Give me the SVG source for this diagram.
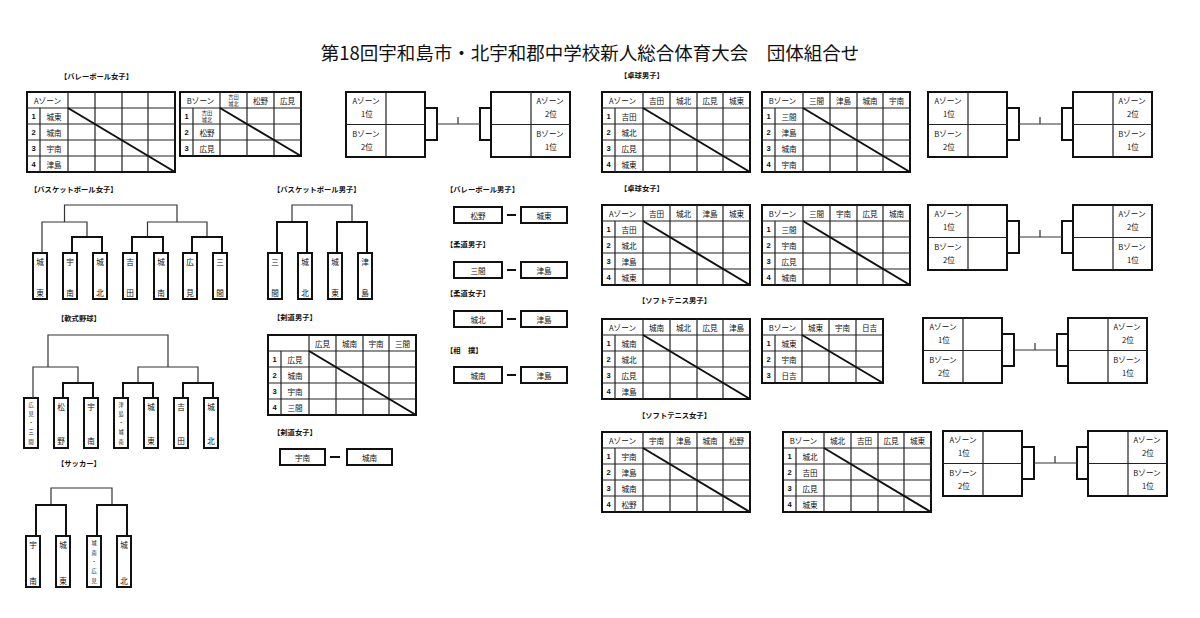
<svg xmlns="http://www.w3.org/2000/svg" width="1200" height="618" viewBox="0 0 1200 618">
<style>
text{font-family:"Noto Sans CJK JP","Noto Sans",sans-serif;fill:#111}
.ti{font-size:18.5px;text-anchor:middle;dominant-baseline:central}
.lb{font-size:7.3px;font-weight:bold;dominant-baseline:central}
.t{font-size:7.6px;text-anchor:middle;dominant-baseline:central}
.n{font-size:7.6px;font-weight:bold;text-anchor:middle;dominant-baseline:central;font-family:"Liberation Sans",sans-serif}
.s{font-size:5.2px;text-anchor:middle;dominant-baseline:central}
.ob{fill:none;stroke:#111;stroke-width:2}
.in{fill:none;stroke:#222;stroke-width:1.2}
.dg{fill:none;stroke:#111;stroke-width:2}
.th{fill:none;stroke:#333;stroke-width:1.2}
.tk{fill:none;stroke:#111;stroke-width:2}
.bx{fill:#fff;stroke:#111;stroke-width:2}
</style>
<defs>
<g id="t4">
<rect x="0" y="0" width="148" height="80" class="ob"/>
<path d="M0 16H148M0 32H148M0 48H148M0 64H148M13 16V80M41 0V80M68 0V80M95 0V80M121 0V80" class="in"/>
<path d="M41 16L148 80" class="dg"/>
</g>
<g id="t3">
<rect x="0" y="0" width="121" height="64" class="ob"/>
<path d="M0 16H121M0 32H121M0 48H121M13 16V64M40 0V64M67 0V64M94 0V64" class="in"/>
<path d="M40 16L121 64" class="dg"/>
</g>
<g id="fin">
<rect x="0" y="0" width="79" height="65" class="ob"/>
<path d="M40 0V65M0 32.5H79" class="in"/>
<rect x="145" y="0" width="79" height="65" class="ob"/>
<path d="M185 0V65M145 32.5H224" class="in"/>
<path d="M79 16H91V48H79M145 16H134V48H145" class="tk"/>
<path d="M91 32H134M112 25V32" class="th"/>
</g>
</defs>
<rect width="1200" height="618" fill="#fff"/>
<text class="ti" x="590" y="52">第18回宇和島市・北宇和郡中学校新人総合体育大会　団体組合せ</text>

<g id="labels">
<text class="lb" x="60" y="76">【バレーボール女子】</text>
<text class="lb" x="620" y="75">【卓球男子】</text>
<text class="lb" x="30" y="189">【バスケットボール女子】</text>
<text class="lb" x="273" y="189">【バスケットボール男子】</text>
<text class="lb" x="446" y="189">【バレーボール男子】</text>
<text class="lb" x="620" y="188">【卓球女子】</text>
<text class="lb" x="446" y="244">【柔道男子】</text>
<text class="lb" x="446" y="293">【柔道女子】</text>
<text class="lb" x="638" y="300">【ソフトテニス男子】</text>
<text class="lb" x="57" y="318">【軟式野球】</text>
<text class="lb" x="273" y="317">【剣道男子】</text>
<text class="lb" x="446" y="350">【相　撲】</text>
<text class="lb" x="273" y="432">【剣道女子】</text>
<text class="lb" x="638" y="415">【ソフトテニス女子】</text>
<text class="lb" x="57" y="463">【サッカー】</text>
</g>

<g id="vg-a">
<use href="#t4" x="27" y="92"/>
<text class="t" x="47.5" y="100">Aゾーン</text>
<text class="n" x="33.5" y="116">1</text><text class="t" x="54" y="116">城東</text>
<text class="n" x="33.5" y="132">2</text><text class="t" x="54" y="132">城南</text>
<text class="n" x="33.5" y="148">3</text><text class="t" x="54" y="148">宇南</text>
<text class="n" x="33.5" y="164">4</text><text class="t" x="54" y="164">津島</text>
</g>
<g id="vg-b">
<use href="#t3" x="180" y="92"/>
<text class="t" x="200.5" y="100">Bゾーン</text>
<text class="s" x="233.5" y="96.5">吉田</text><text class="s" x="233.5" y="103.5">城北</text>
<text class="t" x="260.5" y="100">松野</text>
<text class="t" x="287.5" y="100">広見</text>
<text class="n" x="186.5" y="116">1</text><text class="s" x="207" y="112.5">吉田</text><text class="s" x="207" y="119.5">城北</text>
<text class="n" x="186.5" y="132">2</text><text class="t" x="207" y="132">松野</text>
<text class="n" x="186.5" y="148">3</text><text class="t" x="207" y="148">広見</text>
</g>

<g id="vg-final">
<use href="#fin" x="346" y="92"/>
<text class="t" x="366" y="100">Aゾーン</text><text class="t" x="367" y="113">1位</text>
<text class="t" x="366" y="133">Bゾーン</text><text class="t" x="367" y="146">2位</text>
<text class="t" x="550" y="100">Aゾーン</text><text class="t" x="551" y="113">2位</text>
<text class="t" x="550" y="133">Bゾーン</text><text class="t" x="551" y="146">1位</text>
</g>
<g id="ttb-final">
<use href="#fin" x="928" y="92"/>
<text class="t" x="948" y="100">Aゾーン</text><text class="t" x="949" y="113">1位</text>
<text class="t" x="948" y="133">Bゾーン</text><text class="t" x="949" y="146">2位</text>
<text class="t" x="1132" y="100">Aゾーン</text><text class="t" x="1133" y="113">2位</text>
<text class="t" x="1132" y="133">Bゾーン</text><text class="t" x="1133" y="146">1位</text>
</g>
<g id="ttg-final">
<use href="#fin" x="928" y="205"/>
<text class="t" x="948" y="213">Aゾーン</text><text class="t" x="949" y="226">1位</text>
<text class="t" x="948" y="246">Bゾーン</text><text class="t" x="949" y="259">2位</text>
<text class="t" x="1132" y="213">Aゾーン</text><text class="t" x="1133" y="226">2位</text>
<text class="t" x="1132" y="246">Bゾーン</text><text class="t" x="1133" y="259">1位</text>
</g>
<g id="stb-final">
<use href="#fin" x="923" y="318"/>
<text class="t" x="943" y="326">Aゾーン</text><text class="t" x="944" y="339">1位</text>
<text class="t" x="943" y="359">Bゾーン</text><text class="t" x="944" y="372">2位</text>
<text class="t" x="1127" y="326">Aゾーン</text><text class="t" x="1128" y="339">2位</text>
<text class="t" x="1127" y="359">Bゾーン</text><text class="t" x="1128" y="372">1位</text>
</g>
<g id="stg-final">
<use href="#fin" x="943" y="431"/>
<text class="t" x="963" y="439">Aゾーン</text><text class="t" x="964" y="452">1位</text>
<text class="t" x="963" y="472">Bゾーン</text><text class="t" x="964" y="485">2位</text>
<text class="t" x="1147" y="439">Aゾーン</text><text class="t" x="1148" y="452">2位</text>
<text class="t" x="1147" y="472">Bゾーン</text><text class="t" x="1148" y="485">1位</text>
</g>

<g id="ttb-a">
<use href="#t4" x="602" y="92"/>
<text class="t" x="622.5" y="100">Aゾーン</text>
<text class="t" x="656.5" y="100">吉田</text><text class="t" x="683.5" y="100">城北</text><text class="t" x="710" y="100">広見</text><text class="t" x="736.5" y="100">城東</text>
<text class="n" x="608.5" y="116">1</text><text class="t" x="629" y="116">吉田</text>
<text class="n" x="608.5" y="132">2</text><text class="t" x="629" y="132">城北</text>
<text class="n" x="608.5" y="148">3</text><text class="t" x="629" y="148">広見</text>
<text class="n" x="608.5" y="164">4</text><text class="t" x="629" y="164">城東</text>
</g>
<g id="ttb-b">
<use href="#t4" x="762" y="92"/>
<text class="t" x="782.5" y="100">Bゾーン</text>
<text class="t" x="816.5" y="100">三間</text><text class="t" x="843.5" y="100">津島</text><text class="t" x="870" y="100">城南</text><text class="t" x="896.5" y="100">宇南</text>
<text class="n" x="768.5" y="116">1</text><text class="t" x="789" y="116">三間</text>
<text class="n" x="768.5" y="132">2</text><text class="t" x="789" y="132">津島</text>
<text class="n" x="768.5" y="148">3</text><text class="t" x="789" y="148">城南</text>
<text class="n" x="768.5" y="164">4</text><text class="t" x="789" y="164">宇南</text>
</g>
<g id="ttg-a">
<use href="#t4" x="602" y="205"/>
<text class="t" x="622.5" y="213">Aゾーン</text>
<text class="t" x="656.5" y="213">吉田</text><text class="t" x="683.5" y="213">城北</text><text class="t" x="710" y="213">津島</text><text class="t" x="736.5" y="213">城東</text>
<text class="n" x="608.5" y="229">1</text><text class="t" x="629" y="229">吉田</text>
<text class="n" x="608.5" y="245">2</text><text class="t" x="629" y="245">城北</text>
<text class="n" x="608.5" y="261">3</text><text class="t" x="629" y="261">津島</text>
<text class="n" x="608.5" y="277">4</text><text class="t" x="629" y="277">城東</text>
</g>
<g id="ttg-b">
<use href="#t4" x="762" y="205"/>
<text class="t" x="782.5" y="213">Bゾーン</text>
<text class="t" x="816.5" y="213">三間</text><text class="t" x="843.5" y="213">宇南</text><text class="t" x="870" y="213">広見</text><text class="t" x="896.5" y="213">城南</text>
<text class="n" x="768.5" y="229">1</text><text class="t" x="789" y="229">三間</text>
<text class="n" x="768.5" y="245">2</text><text class="t" x="789" y="245">宇南</text>
<text class="n" x="768.5" y="261">3</text><text class="t" x="789" y="261">広見</text>
<text class="n" x="768.5" y="277">4</text><text class="t" x="789" y="277">城南</text>
</g>
<g id="stb-a">
<use href="#t4" x="602" y="319"/>
<text class="t" x="622.5" y="327">Aゾーン</text>
<text class="t" x="656.5" y="327">城南</text><text class="t" x="683.5" y="327">城北</text><text class="t" x="710" y="327">広見</text><text class="t" x="736.5" y="327">津島</text>
<text class="n" x="608.5" y="343">1</text><text class="t" x="629" y="343">城南</text>
<text class="n" x="608.5" y="359">2</text><text class="t" x="629" y="359">城北</text>
<text class="n" x="608.5" y="375">3</text><text class="t" x="629" y="375">広見</text>
<text class="n" x="608.5" y="391">4</text><text class="t" x="629" y="391">津島</text>
</g>
<g id="stb-b">
<use href="#t3" x="762" y="319"/>
<text class="t" x="782.5" y="327">Bゾーン</text>
<text class="t" x="815.5" y="327">城東</text><text class="t" x="842.5" y="327">宇南</text><text class="t" x="869.5" y="327">日吉</text>
<text class="n" x="768.5" y="343">1</text><text class="t" x="789" y="343">城東</text>
<text class="n" x="768.5" y="359">2</text><text class="t" x="789" y="359">宇南</text>
<text class="n" x="768.5" y="375">3</text><text class="t" x="789" y="375">日吉</text>
</g>
<g id="stg-a">
<use href="#t4" x="602" y="432"/>
<text class="t" x="622.5" y="440">Aゾーン</text>
<text class="t" x="656.5" y="440">宇南</text><text class="t" x="683.5" y="440">津島</text><text class="t" x="710" y="440">城南</text><text class="t" x="736.5" y="440">松野</text>
<text class="n" x="608.5" y="456">1</text><text class="t" x="629" y="456">宇南</text>
<text class="n" x="608.5" y="472">2</text><text class="t" x="629" y="472">津島</text>
<text class="n" x="608.5" y="488">3</text><text class="t" x="629" y="488">城南</text>
<text class="n" x="608.5" y="504">4</text><text class="t" x="629" y="504">松野</text>
</g>
<g id="stg-b">
<use href="#t4" x="783" y="432"/>
<text class="t" x="803.5" y="440">Bゾーン</text>
<text class="t" x="837.5" y="440">城北</text><text class="t" x="864.5" y="440">吉田</text><text class="t" x="891" y="440">広見</text><text class="t" x="917.5" y="440">城東</text>
<text class="n" x="789.5" y="456">1</text><text class="t" x="810" y="456">城北</text>
<text class="n" x="789.5" y="472">2</text><text class="t" x="810" y="472">吉田</text>
<text class="n" x="789.5" y="488">3</text><text class="t" x="810" y="488">広見</text>
<text class="n" x="789.5" y="504">4</text><text class="t" x="810" y="504">城東</text>
</g>
<g id="kendo-b">
<use href="#t4" x="268" y="335"/>
<text class="t" x="322.5" y="343">広見</text><text class="t" x="349.5" y="343">城南</text><text class="t" x="376" y="343">宇南</text><text class="t" x="402.5" y="343">三間</text>
<text class="n" x="274.5" y="359">1</text><text class="t" x="295" y="359">広見</text>
<text class="n" x="274.5" y="375">2</text><text class="t" x="295" y="375">城南</text>
<text class="n" x="274.5" y="391">3</text><text class="t" x="295" y="391">宇南</text>
<text class="n" x="274.5" y="407">4</text><text class="t" x="295" y="407">三間</text>
</g>

<g id="vb-boys">
<rect class="bx" x="454" y="207" width="48" height="16"/><text class="t" x="478" y="215">松野</text>
<rect class="bx" x="521" y="207" width="46" height="16"/><text class="t" x="544" y="215">城東</text>
</g>
<g id="judo-b">
<rect class="bx" x="454" y="262" width="48" height="16"/><text class="t" x="478" y="270">三間</text>
<rect class="bx" x="521" y="262" width="46" height="16"/><text class="t" x="544" y="270">津島</text>
</g>
<g id="judo-g">
<rect class="bx" x="454" y="311" width="48" height="16"/><text class="t" x="478" y="319">城北</text>
<rect class="bx" x="521" y="311" width="46" height="16"/><text class="t" x="544" y="319">津島</text>
</g>
<g id="sumo">
<rect class="bx" x="454" y="367" width="48" height="16"/><text class="t" x="478" y="375">城南</text>
<rect class="bx" x="521" y="367" width="46" height="16"/><text class="t" x="544" y="375">津島</text>
</g>
<g id="kendo-g">
<rect class="bx" x="280" y="449" width="45" height="16"/><text class="t" x="302.5" y="457">宇南</text>
<rect class="bx" x="347" y="449" width="45" height="16"/><text class="t" x="369.5" y="457">城南</text>
</g>

<g id="bkg">
<rect class="bx" x="33" y="253" width="14" height="46"/><text class="t" x="40" y="261">城</text><text class="t" x="40" y="292">東</text>
<rect class="bx" x="63" y="253" width="14" height="46"/><text class="t" x="70" y="261">宇</text><text class="t" x="70" y="292">南</text>
<rect class="bx" x="93" y="253" width="14" height="46"/><text class="t" x="100" y="261">城</text><text class="t" x="100" y="292">北</text>
<rect class="bx" x="123" y="253" width="14" height="46"/><text class="t" x="130" y="261">吉</text><text class="t" x="130" y="292">田</text>
<rect class="bx" x="154" y="253" width="14" height="46"/><text class="t" x="161" y="261">城</text><text class="t" x="161" y="292">南</text>
<rect class="bx" x="183" y="253" width="14" height="46"/><text class="t" x="190" y="261">広</text><text class="t" x="190" y="292">見</text>
<rect class="bx" x="213" y="253" width="14" height="46"/><text class="t" x="220" y="261">三</text><text class="t" x="220" y="292">間</text>
</g>
<g id="bkb">
<rect class="bx" x="268" y="253" width="14" height="46"/><text class="t" x="275" y="261">三</text><text class="t" x="275" y="292">間</text>
<rect class="bx" x="298" y="253" width="14" height="46"/><text class="t" x="305" y="261">城</text><text class="t" x="305" y="292">北</text>
<rect class="bx" x="328" y="253" width="14" height="46"/><text class="t" x="335" y="261">城</text><text class="t" x="335" y="292">東</text>
<rect class="bx" x="358" y="253" width="14" height="46"/><text class="t" x="365" y="261">津</text><text class="t" x="365" y="292">島</text>
</g>
<g id="softball">
<rect class="bx" x="24" y="398" width="14" height="50"/>
<text class="s" x="31" y="404">広</text><text class="s" x="31" y="413">見</text><text class="s" x="31" y="422">・</text><text class="s" x="31" y="431">三</text><text class="s" x="31" y="441">間</text>
<rect class="bx" x="54" y="398" width="14" height="50"/><text class="t" x="61" y="406">松</text><text class="t" x="61" y="440">野</text>
<rect class="bx" x="84" y="398" width="14" height="50"/><text class="t" x="91" y="406">宇</text><text class="t" x="91" y="440">南</text>
<rect class="bx" x="114" y="398" width="14" height="50"/>
<text class="s" x="121" y="404">津</text><text class="s" x="121" y="413">島</text><text class="s" x="121" y="422">・</text><text class="s" x="121" y="431">城</text><text class="s" x="121" y="441">南</text>
<rect class="bx" x="144" y="398" width="14" height="50"/><text class="t" x="151" y="406">城</text><text class="t" x="151" y="440">東</text>
<rect class="bx" x="174" y="398" width="14" height="50"/><text class="t" x="181" y="406">吉</text><text class="t" x="181" y="440">田</text>
<rect class="bx" x="204" y="398" width="14" height="50"/><text class="t" x="211" y="406">城</text><text class="t" x="211" y="440">北</text>
</g>
<g id="soccer">
<rect class="bx" x="26" y="536" width="14" height="51"/><text class="t" x="33" y="544">宇</text><text class="t" x="33" y="580">南</text>
<rect class="bx" x="56" y="536" width="14" height="51"/><text class="t" x="63" y="544">城</text><text class="t" x="63" y="580">東</text>
<rect class="bx" x="87" y="536" width="14" height="51"/>
<text class="s" x="94" y="542">城</text><text class="s" x="94" y="552">南</text><text class="s" x="94" y="561">・</text><text class="s" x="94" y="570">広</text><text class="s" x="94" y="580">見</text>
<rect class="bx" x="117" y="536" width="14" height="51"/><text class="t" x="124" y="544">城</text><text class="t" x="124" y="580">北</text>
</g>

<g id="connectors">
<path class="tk" d="M507 215H516M507 270H516M507 319H516M507 375H516M330 457H340"/>
<path class="th" d="M64.5 222V205H177V222M42 253V222H87V237M147.5 237V222H207V237"/>
<path class="tk" d="M72 253V237H102V253M132 253V237H163V253M192 253V237H222V253"/>
<path class="th" d="M292 222V205H352V222"/>
<path class="tk" d="M277 253V222H307V253M337 253V222H367V253"/>
<path class="th" d="M48 367V335H168V367M33 398V367H78V383M138 383V367H198V383"/>
<path class="tk" d="M63 398V383H93V398M123 398V383H153V398M183 398V383H213V398"/>
<path class="th" d="M51 505V488H112V505"/>
<path class="tk" d="M36 536V505H66V536M97 536V505H127V536"/>
</g>
</svg>
